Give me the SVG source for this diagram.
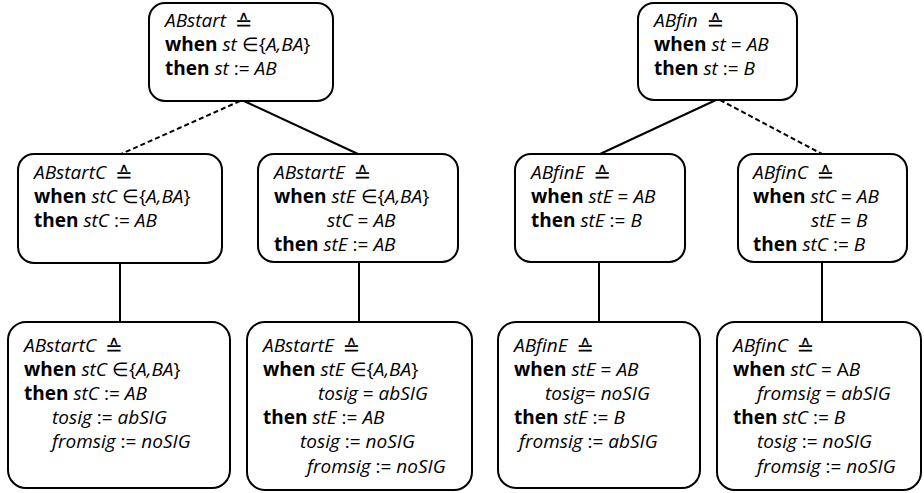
<svg xmlns="http://www.w3.org/2000/svg" width="924" height="493" viewBox="0 0 924 493">
<style>
.box{fill:#fff;stroke:#000;stroke-width:2}
.ln{stroke:#000;stroke-width:2;fill:none}
.d{stroke-dasharray:5,3}
text{font-family:"Open Sans","Liberation Sans",sans-serif;font-size:19px;fill:#000}
.b{font-weight:bold}
.i{font-style:italic}
.q{font-family:"DejaVu Sans",sans-serif;font-size:21px}
</style>
<rect width="924" height="493" fill="#fff"/>
<g id="connectors">
<line class="ln d" x1="240" y1="101" x2="121" y2="154"/>
<line class="ln" x1="244" y1="101" x2="358" y2="154"/>
<line class="ln" x1="716" y1="100" x2="600" y2="154"/>
<line class="ln d" x1="720" y1="100" x2="822" y2="154"/>
<line class="ln" x1="120" y1="263" x2="120" y2="322"/>
<line class="ln" x1="359" y1="262" x2="359" y2="322"/>
<line class="ln" x1="599" y1="262" x2="599" y2="322"/>
<line class="ln" x1="822" y1="262" x2="822" y2="322"/>
</g>
<g id="ABstart">
<rect class="box" x="149" y="3" width="184" height="98" rx="16"/>
<text x="165" y="27"><tspan class="i">ABstart</tspan> <tspan class="q" dx="4" dy="3">≙</tspan></text>
<text x="165" y="51"><tspan class="b">when</tspan> <tspan class="i">st</tspan> ∈{<tspan class="i">A,BA</tspan>}</text>
<text x="165" y="75"><tspan class="b">then</tspan> <tspan class="i">st</tspan> := <tspan class="i">AB</tspan></text>
</g>
<g id="ABfin">
<rect class="box" x="638" y="3" width="159" height="97" rx="16"/>
<text x="654" y="27"><tspan class="i">ABfin</tspan> <tspan class="q" dx="4" dy="3">≙</tspan></text>
<text x="654" y="51"><tspan class="b">when</tspan> <tspan class="i">st</tspan> = <tspan class="i">AB</tspan></text>
<text x="654" y="75"><tspan class="b">then</tspan> <tspan class="i">st</tspan> := <tspan class="i">B</tspan></text>
</g>
<g id="ABstartC1">
<rect class="box" x="18" y="154" width="204" height="109" rx="16"/>
<text x="34" y="179"><tspan class="i">ABstartC</tspan> <tspan class="q" dx="4" dy="3">≙</tspan></text>
<text x="34" y="203"><tspan class="b">when</tspan> <tspan class="i">stC</tspan> ∈{<tspan class="i">A,BA</tspan>}</text>
<text x="34" y="227"><tspan class="b">then</tspan> <tspan class="i">stC</tspan> := <tspan class="i">AB</tspan></text>
</g>
<g id="ABstartE1">
<rect class="box" x="258" y="154" width="200" height="108" rx="16"/>
<text x="274" y="179"><tspan class="i">ABstartE</tspan> <tspan class="q" dx="4" dy="3">≙</tspan></text>
<text x="274" y="203"><tspan class="b">when</tspan> <tspan class="i">stE</tspan> ∈{<tspan class="i">A,BA</tspan>}</text>
<text x="327" y="227"><tspan class="i">stC</tspan> = <tspan class="i">AB</tspan></text>
<text x="274" y="251"><tspan class="b">then</tspan> <tspan class="i">stE</tspan> := <tspan class="i">AB</tspan></text>
</g>
<g id="ABfinE1">
<rect class="box" x="515" y="154" width="170" height="108" rx="16"/>
<text x="531" y="179"><tspan class="i">ABfinE</tspan> <tspan class="q" dx="4" dy="3">≙</tspan></text>
<text x="531" y="203"><tspan class="b">when</tspan> <tspan class="i">stE</tspan> = <tspan class="i">AB</tspan></text>
<text x="531" y="227"><tspan class="b">then</tspan> <tspan class="i">stE</tspan> := <tspan class="i">B</tspan></text>
</g>
<g id="ABfinC1">
<rect class="box" x="738" y="154" width="169" height="108" rx="16"/>
<text x="753" y="179"><tspan class="i">ABfinC</tspan> <tspan class="q" dx="4" dy="3">≙</tspan></text>
<text x="753" y="203"><tspan class="b">when</tspan> <tspan class="i">stC</tspan> = <tspan class="i">AB</tspan></text>
<text x="811" y="227"><tspan class="i">stE</tspan> = <tspan class="i">B</tspan></text>
<text x="753" y="251"><tspan class="b">then</tspan> <tspan class="i">stC</tspan> := <tspan class="i">B</tspan></text>
</g>
<g id="ABstartC2">
<rect class="box" x="8" y="322" width="222" height="166" rx="18"/>
<text x="24" y="352"><tspan class="i">ABstartC</tspan> <tspan class="q" dx="4" dy="3">≙</tspan></text>
<text x="24" y="376"><tspan class="b">when</tspan> <tspan class="i">stC</tspan> ∈{<tspan class="i">A,BA</tspan>}</text>
<text x="24" y="400"><tspan class="b">then</tspan> <tspan class="i">stC</tspan> := <tspan class="i">AB</tspan></text>
<text x="52" y="424"><tspan class="i">tosig</tspan> := <tspan class="i">abSIG</tspan></text>
<text x="52" y="448"><tspan class="i">fromsig</tspan> := <tspan class="i">noSIG</tspan></text>
</g>
<g id="ABstartE2">
<rect class="box" x="247" y="322" width="225" height="168" rx="18"/>
<text x="263" y="352"><tspan class="i">ABstartE</tspan> <tspan class="q" dx="4" dy="3">≙</tspan></text>
<text x="263" y="376"><tspan class="b">when</tspan> <tspan class="i">stE</tspan> ∈{<tspan class="i">A,BA</tspan>}</text>
<text x="318" y="400"><tspan class="i">tosig</tspan> = <tspan class="i">abSIG</tspan></text>
<text x="263" y="424"><tspan class="b">then</tspan> <tspan class="i">stE</tspan> := <tspan class="i">AB</tspan></text>
<text x="300" y="448"><tspan class="i">tosig</tspan> := <tspan class="i">noSIG</tspan></text>
<text x="307" y="473"><tspan class="i">fromsig</tspan> := <tspan class="i">noSIG</tspan></text>
</g>
<g id="ABfinE2">
<rect class="box" x="498" y="322" width="202" height="166" rx="18"/>
<text x="514" y="352"><tspan class="i">ABfinE</tspan> <tspan class="q" dx="4" dy="3">≙</tspan></text>
<text x="514" y="376"><tspan class="b">when</tspan> <tspan class="i">stE</tspan> = <tspan class="i">AB</tspan></text>
<text x="545" y="400"><tspan class="i">tosig</tspan>= <tspan class="i">noSIG</tspan></text>
<text x="514" y="424"><tspan class="b">then</tspan> <tspan class="i">stE</tspan> := <tspan class="i">B</tspan></text>
<text x="519" y="448"><tspan class="i">fromsig</tspan> := <tspan class="i">abSIG</tspan></text>
</g>
<g id="ABfinC2">
<rect class="box" x="717" y="322" width="204" height="168" rx="18"/>
<text x="733" y="352"><tspan class="i">ABfinC</tspan> <tspan class="q" dx="4" dy="3">≙</tspan></text>
<text x="733" y="376"><tspan class="b">when</tspan> <tspan class="i">stC</tspan> = A<tspan class="i">B</tspan></text>
<text x="757" y="400"><tspan class="i">fromsig</tspan> = <tspan class="i">abSIG</tspan></text>
<text x="733" y="424"><tspan class="b">then</tspan> <tspan class="i">stC</tspan> := <tspan class="i">B</tspan></text>
<text x="757" y="448"><tspan class="i">tosig</tspan> := <tspan class="i">noSIG</tspan></text>
<text x="757" y="473"><tspan class="i">fromsig</tspan> := <tspan class="i">noSIG</tspan></text>
</g>
</svg>
